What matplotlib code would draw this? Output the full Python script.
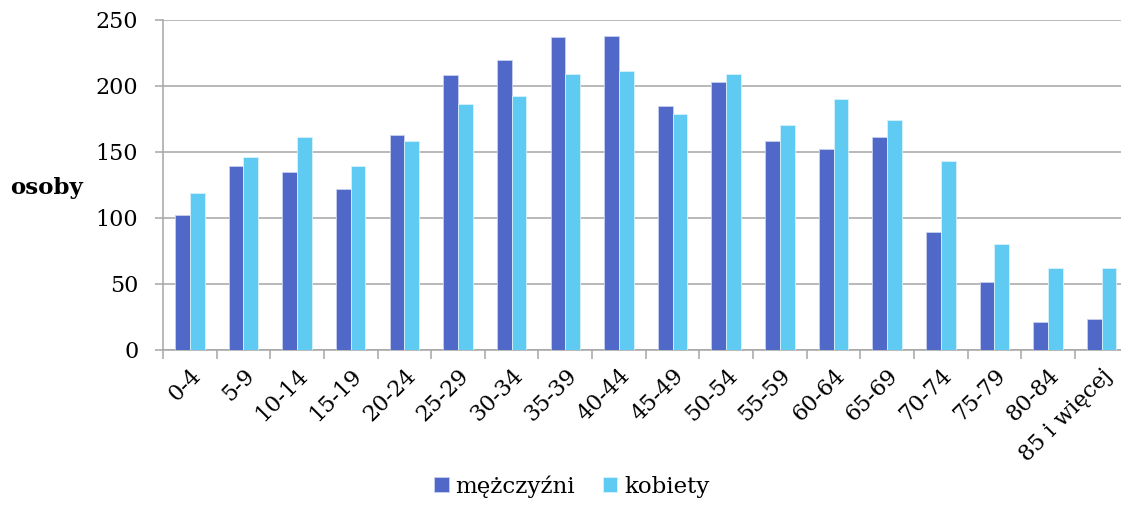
import numpy as np
import matplotlib
matplotlib.use("Agg")
import matplotlib.pyplot as plt
from matplotlib.ticker import FixedLocator

age_groups = ["0-4", "5-9", "10-14", "15-19", "20-24", "25-29", "30-34", "35-39",
              "40-44", "45-49", "50-54", "55-59", "60-64", "65-69", "70-74",
              "75-79", "80-84", "85 i więcej"]
men = [102, 139, 135, 122, 163, 208, 220, 237, 238, 185, 203, 158, 152, 161, 89, 51, 21, 23]
women = [119, 146, 161, 139, 158, 186, 192, 209, 211, 179, 209, 170, 190, 174, 143, 80, 62, 62]
y_ticks = [0, 50, 100, 150, 200, 250]

plt.rcParams['font.family'] = ['DejaVu Serif']
grey = "#a6a6a6"

fig = plt.figure(figsize=(11.21, 5.08), dpi=100)
ax = fig.add_axes([163 / 1121, 158.5 / 508, 18 * 53.64 / 1121, 329.5 / 508])

x = np.arange(len(age_groups))
w = 0.275
ax.bar(x - w / 2, men, w, color="#5068c8", edgecolor="#c8d0f0", linewidth=0.6,
       label="mężczyźni", zorder=3)
ax.bar(x + w / 2, women, w, color="#60cbf2", edgecolor="#d8f2fc", linewidth=0.6,
       label="kobiety", zorder=3)

ax.set_xlim(-0.5, len(age_groups) - 0.5)
ax.set_ylim(0, 250)
ax.set_yticks(y_ticks)
ax.yaxis.grid(True, color=grey, linewidth=1.1, zorder=0)
ax.set_axisbelow(True)

ax.set_xticks(x)
ax.set_xticklabels(age_groups, rotation=45, ha="right", rotation_mode="anchor")
ax.xaxis.set_minor_locator(FixedLocator(np.arange(-0.5, len(age_groups), 1.0)))
ax.tick_params(axis="x", which="major", length=0, labelsize=16, pad=11)
ax.tick_params(axis="x", which="minor", length=6.5, width=1.1, color=grey)
ax.tick_params(axis="y", length=5.8, width=1.1, color=grey, labelsize=16, pad=12)

for side in ["top", "right"]:
    ax.spines[side].set_visible(False)
for side in ["left", "bottom"]:
    ax.spines[side].set_color(grey)
    ax.spines[side].set_linewidth(1.1)

fig.text(10 / 1121, 1 - 188 / 508, "osoby", fontsize=16.5, fontweight="bold",
         va="center", ha="left")

fig.legend(loc="lower center", bbox_to_anchor=(0.51, -0.02), ncol=2, frameon=False,
           fontsize=16.5, handlelength=0.65, handleheight=0.65, handletextpad=0.3,
           columnspacing=1.2)

fig.savefig("out.png", dpi=100)
